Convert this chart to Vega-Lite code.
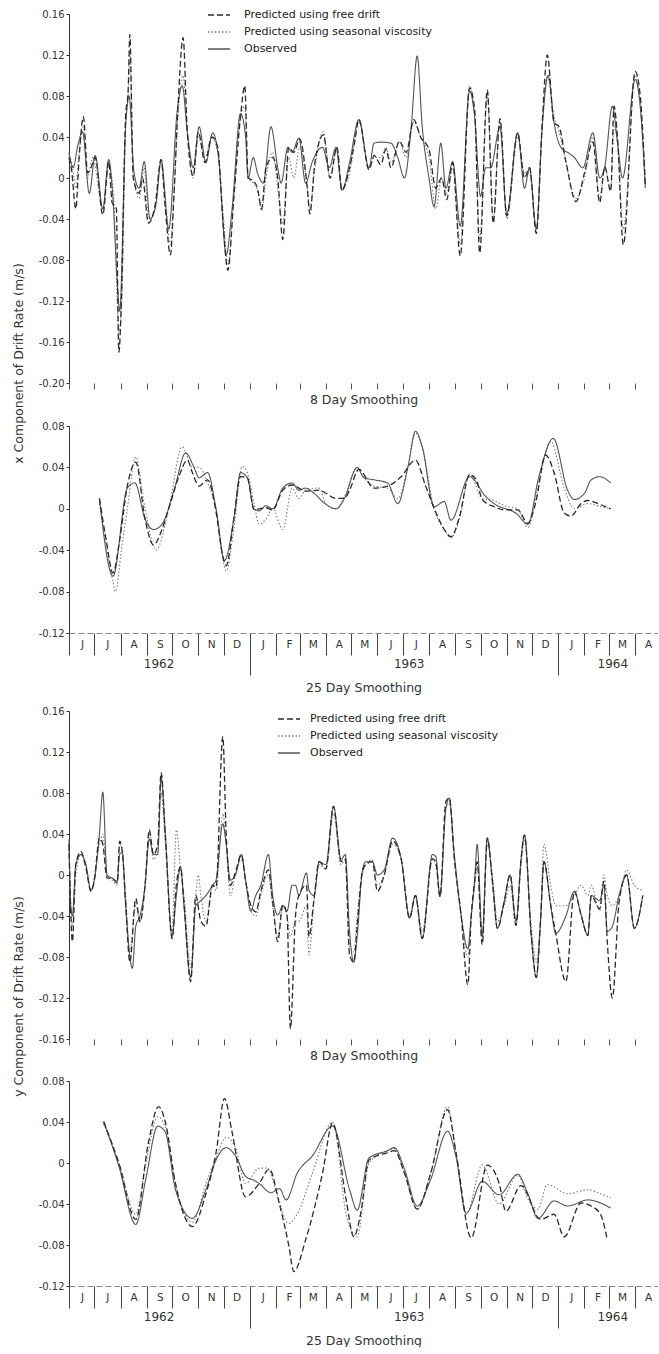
{
"$schema":"https://vega.github.io/schema/vega-lite/v6.json",
"background":"white",
"padding":{"left":12,"top":3,"right":0,"bottom":0},
"config":{
 "font":"DejaVu Sans",
 "view":{"stroke":null},
 "axis":{"grid":false,"labelColor":"#333","titleColor":"#333","tickColor":"#333","domainColor":"#333","labelFontSize":10,"titleFontSize":12,"titleFontWeight":"normal","tickSize":3,"labelPadding":2},
 "axisY":{"titleFontSize":12.5,"titlePadding":13},
 "axisX":{"titleFontSize":12.5},
 "legend":{"symbolType":"stroke","symbolSize":484,"symbolStrokeWidth":1.3,"labelFontSize":11,"labelColor":"#222","labelLimit":400,"labelOffset":8,"rowPadding":-6,"padding":0}
},
"datasets":{
"x8F":[{"t":0,"v":0.02},{"t":3,"v":0.008},{"t":8,"v":-0.03},{"t":12,"v":0.02},{"t":17,"v":0.06},{"t":22,"v":0.005},{"t":26,"v":0.01},{"t":31,"v":0.02},{"t":40,"v":-0.036},{"t":47,"v":0.016},{"t":51,"v":-0.024},{"t":56,"v":-0.03},{"t":59,"v":-0.17},{"t":62,"v":-0.12},{"t":67,"v":0.06},{"t":70,"v":0.085},{"t":72,"v":0.14},{"t":76,"v":0.0},{"t":83,"v":-0.015},{"t":87,"v":0.0},{"t":94,"v":-0.044},{"t":102,"v":-0.026},{"t":109,"v":0.018},{"t":114,"v":-0.03},{"t":120,"v":-0.075},{"t":124,"v":-0.02},{"t":129,"v":0.07},{"t":135,"v":0.137},{"t":140,"v":0.045},{"t":147,"v":0.002},{"t":153,"v":0.045},{"t":161,"v":0.015},{"t":169,"v":0.04},{"t":176,"v":0.03},{"t":182,"v":-0.04},{"t":188,"v":-0.09},{"t":195,"v":-0.02},{"t":203,"v":0.06},{"t":208,"v":0.09},{"t":212,"v":0.0},{"t":217,"v":-0.002},{"t":223,"v":-0.01},{"t":228,"v":-0.03},{"t":233,"v":0.01},{"t":241,"v":0.02},{"t":247,"v":0.0},{"t":253,"v":-0.06},{"t":260,"v":0.03},{"t":266,"v":0.025},{"t":273,"v":0.038},{"t":282,"v":-0.01},{"t":285,"v":-0.035},{"t":291,"v":0.015},{"t":301,"v":0.042},{"t":309,"v":0.0},{"t":317,"v":0.03},{"t":323,"v":-0.012},{"t":332,"v":0.01},{"t":338,"v":0.035},{"t":343,"v":0.057},{"t":355,"v":0.008},{"t":361,"v":0.022},{"t":369,"v":0.013},{"t":375,"v":0.028},{"t":381,"v":0.01},{"t":391,"v":0.036},{"t":399,"v":0.025},{"t":408,"v":0.057},{"t":416,"v":0.04},{"t":426,"v":0.028},{"t":434,"v":-0.01},{"t":441,"v":0.0},{"t":447,"v":-0.021},{"t":454,"v":0.015},{"t":463,"v":-0.076},{"t":474,"v":0.088},{"t":480,"v":0.067},{"t":486,"v":-0.073},{"t":495,"v":0.086},{"t":502,"v":-0.044},{"t":510,"v":0.058},{"t":518,"v":-0.037},{"t":531,"v":0.044},{"t":539,"v":0.0},{"t":545,"v":0.01},{"t":553,"v":-0.054},{"t":560,"v":0.054},{"t":566,"v":0.12},{"t":574,"v":0.054},{"t":580,"v":0.05},{"t":588,"v":0.016},{"t":600,"v":-0.023},{"t":610,"v":0.005},{"t":620,"v":0.035},{"t":628,"v":-0.024},{"t":634,"v":0.011},{"t":641,"v":-0.013},{"t":645,"v":0.07},{"t":649,"v":0.04},{"t":656,"v":-0.065},{"t":670,"v":0.104},{"t":676,"v":0.08},{"t":682,"v":-0.008}],
"x8S":[{"t":0,"v":0.022},{"t":4,"v":0.012},{"t":8,"v":-0.01},{"t":12,"v":0.025},{"t":17,"v":0.05},{"t":22,"v":0.0},{"t":28,"v":0.02},{"t":40,"v":-0.03},{"t":47,"v":0.012},{"t":53,"v":-0.02},{"t":59,"v":-0.15},{"t":62,"v":-0.13},{"t":67,"v":0.05},{"t":70,"v":0.08},{"t":72,"v":0.12},{"t":76,"v":0.005},{"t":83,"v":-0.02},{"t":89,"v":0.01},{"t":94,"v":-0.04},{"t":102,"v":-0.03},{"t":109,"v":0.015},{"t":114,"v":-0.02},{"t":120,"v":-0.065},{"t":124,"v":-0.02},{"t":129,"v":0.06},{"t":135,"v":0.1},{"t":140,"v":0.045},{"t":147,"v":0.0},{"t":153,"v":0.04},{"t":161,"v":0.02},{"t":169,"v":0.04},{"t":176,"v":0.025},{"t":182,"v":-0.03},{"t":188,"v":-0.085},{"t":195,"v":-0.02},{"t":203,"v":0.06},{"t":208,"v":0.07},{"t":212,"v":0.0},{"t":218,"v":-0.005},{"t":224,"v":-0.015},{"t":228,"v":-0.032},{"t":233,"v":0.0},{"t":241,"v":0.025},{"t":247,"v":-0.01},{"t":253,"v":-0.045},{"t":260,"v":0.02},{"t":266,"v":0.0},{"t":273,"v":0.03},{"t":282,"v":-0.01},{"t":285,"v":-0.03},{"t":291,"v":0.01},{"t":301,"v":0.045},{"t":309,"v":0.0},{"t":317,"v":0.03},{"t":323,"v":-0.01},{"t":332,"v":0.005},{"t":343,"v":0.055},{"t":355,"v":0.01},{"t":361,"v":0.02},{"t":369,"v":0.02},{"t":375,"v":0.03},{"t":381,"v":0.015},{"t":391,"v":0.035},{"t":399,"v":0.02},{"t":408,"v":0.055},{"t":416,"v":0.04},{"t":426,"v":0.02},{"t":434,"v":-0.03},{"t":441,"v":0.0},{"t":447,"v":-0.015},{"t":454,"v":0.01},{"t":463,"v":-0.065},{"t":474,"v":0.09},{"t":480,"v":0.06},{"t":486,"v":-0.06},{"t":495,"v":0.08},{"t":502,"v":-0.04},{"t":510,"v":0.055},{"t":518,"v":-0.04},{"t":531,"v":0.04},{"t":539,"v":0.005},{"t":545,"v":0.005},{"t":553,"v":-0.05},{"t":560,"v":0.05},{"t":566,"v":0.1},{"t":574,"v":0.06},{"t":580,"v":0.045},{"t":588,"v":0.015},{"t":600,"v":-0.02},{"t":610,"v":0.0},{"t":620,"v":0.04},{"t":628,"v":-0.02},{"t":634,"v":0.01},{"t":641,"v":-0.01},{"t":645,"v":0.05},{"t":649,"v":0.035},{"t":656,"v":-0.05},{"t":670,"v":0.1},{"t":676,"v":0.07},{"t":682,"v":-0.005}],
"x8O":[{"t":0,"v":0.025},{"t":5,"v":0.01},{"t":10,"v":0.03},{"t":16,"v":0.045},{"t":24,"v":-0.015},{"t":31,"v":0.022},{"t":40,"v":-0.03},{"t":47,"v":0.018},{"t":52,"v":-0.02},{"t":57,"v":-0.1},{"t":60,"v":-0.13},{"t":67,"v":0.05},{"t":71,"v":0.08},{"t":77,"v":0.005},{"t":83,"v":-0.01},{"t":89,"v":0.016},{"t":96,"v":-0.04},{"t":103,"v":-0.025},{"t":109,"v":0.018},{"t":118,"v":-0.05},{"t":128,"v":0.065},{"t":134,"v":0.09},{"t":140,"v":0.045},{"t":147,"v":0.01},{"t":154,"v":0.05},{"t":162,"v":0.015},{"t":170,"v":0.044},{"t":177,"v":0.02},{"t":186,"v":-0.075},{"t":193,"v":-0.03},{"t":203,"v":0.063},{"t":209,"v":0.04},{"t":212,"v":0.0},{"t":218,"v":0.02},{"t":223,"v":0.005},{"t":230,"v":-0.005},{"t":239,"v":0.05},{"t":247,"v":0.01},{"t":251,"v":-0.005},{"t":259,"v":0.03},{"t":264,"v":0.025},{"t":272,"v":0.039},{"t":280,"v":-0.005},{"t":288,"v":0.016},{"t":300,"v":0.03},{"t":308,"v":0.01},{"t":316,"v":0.03},{"t":323,"v":-0.012},{"t":332,"v":0.015},{"t":343,"v":0.057},{"t":355,"v":0.01},{"t":361,"v":0.034},{"t":369,"v":0.035},{"t":381,"v":0.034},{"t":389,"v":0.02},{"t":397,"v":0.0},{"t":405,"v":0.05},{"t":412,"v":0.119},{"t":418,"v":0.05},{"t":426,"v":0.0},{"t":432,"v":-0.028},{"t":440,"v":0.034},{"t":446,"v":-0.01},{"t":454,"v":0.016},{"t":463,"v":-0.047},{"t":474,"v":0.085},{"t":480,"v":0.06},{"t":487,"v":-0.018},{"t":493,"v":0.01},{"t":499,"v":0.01},{"t":510,"v":0.05},{"t":518,"v":-0.035},{"t":531,"v":0.044},{"t":539,"v":-0.01},{"t":545,"v":0.01},{"t":553,"v":-0.05},{"t":560,"v":0.05},{"t":567,"v":0.1},{"t":574,"v":0.054},{"t":582,"v":0.03},{"t":592,"v":0.024},{"t":598,"v":0.02},{"t":608,"v":0.01},{"t":620,"v":0.044},{"t":628,"v":0.0},{"t":634,"v":0.011},{"t":643,"v":0.07},{"t":649,"v":0.035},{"t":655,"v":0.0},{"t":670,"v":0.096},{"t":677,"v":0.06},{"t":682,"v":-0.01}],
"x25F":[{"t":36,"v":0.01},{"t":44,"v":-0.03},{"t":52,"v":-0.062},{"t":60,"v":-0.03},{"t":69,"v":0.022},{"t":79,"v":0.045},{"t":90,"v":-0.01},{"t":100,"v":-0.035},{"t":110,"v":-0.02},{"t":118,"v":0.0},{"t":130,"v":0.031},{"t":140,"v":0.047},{"t":146,"v":0.035},{"t":154,"v":0.022},{"t":164,"v":0.028},{"t":174,"v":-0.003},{"t":182,"v":-0.046},{"t":186,"v":-0.055},{"t":195,"v":-0.01},{"t":203,"v":0.031},{"t":211,"v":0.03},{"t":219,"v":-0.001},{"t":225,"v":0.0},{"t":233,"v":0.001},{"t":241,"v":-0.001},{"t":253,"v":0.018},{"t":264,"v":0.023},{"t":280,"v":0.017},{"t":296,"v":0.018},{"t":304,"v":0.015},{"t":316,"v":0.01},{"t":326,"v":0.01},{"t":332,"v":0.018},{"t":343,"v":0.038},{"t":361,"v":0.02},{"t":377,"v":0.022},{"t":393,"v":0.031},{"t":410,"v":0.047},{"t":422,"v":0.022},{"t":434,"v":-0.003},{"t":444,"v":-0.02},{"t":452,"v":-0.027},{"t":462,"v":-0.008},{"t":474,"v":0.033},{"t":482,"v":0.028},{"t":489,"v":0.009},{"t":503,"v":0.002},{"t":515,"v":-0.001},{"t":531,"v":-0.001},{"t":543,"v":-0.014},{"t":552,"v":0.005},{"t":564,"v":0.052},{"t":574,"v":0.035},{"t":586,"v":-0.004},{"t":594,"v":-0.007},{"t":606,"v":0.005},{"t":614,"v":0.008},{"t":629,"v":0.004},{"t":641,"v":0.0}],
"x25S":[{"t":36,"v":0.005},{"t":52,"v":-0.07},{"t":55,"v":-0.08},{"t":62,"v":-0.04},{"t":69,"v":0.0},{"t":79,"v":0.05},{"t":90,"v":0.0},{"t":103,"v":-0.04},{"t":118,"v":0.0},{"t":134,"v":0.06},{"t":146,"v":0.04},{"t":154,"v":0.04},{"t":164,"v":0.025},{"t":174,"v":0.0},{"t":186,"v":-0.06},{"t":195,"v":-0.02},{"t":205,"v":0.041},{"t":211,"v":0.035},{"t":219,"v":0.005},{"t":225,"v":-0.015},{"t":233,"v":-0.01},{"t":241,"v":0.0},{"t":253,"v":-0.02},{"t":264,"v":0.02},{"t":272,"v":0.01},{"t":280,"v":0.018},{"t":296,"v":0.02},{"t":304,"v":0.005},{"t":316,"v":0.0},{"t":326,"v":0.012},{"t":341,"v":0.04},{"t":349,"v":0.03},{"t":361,"v":0.022},{"t":377,"v":0.02},{"t":389,"v":0.01},{"t":401,"v":0.04},{"t":410,"v":0.073},{"t":418,"v":0.06},{"t":432,"v":0.0},{"t":444,"v":-0.02},{"t":452,"v":-0.028},{"t":462,"v":-0.01},{"t":474,"v":0.033},{"t":489,"v":0.01},{"t":503,"v":0.008},{"t":515,"v":0.003},{"t":531,"v":0.0},{"t":543,"v":-0.018},{"t":556,"v":0.025},{"t":570,"v":0.065},{"t":586,"v":0.02},{"t":598,"v":0.0},{"t":614,"v":0.005},{"t":629,"v":0.002},{"t":641,"v":0.0}],
"x25O":[{"t":36,"v":0.01},{"t":52,"v":-0.065},{"t":69,"v":0.02},{"t":78,"v":0.025},{"t":90,"v":-0.01},{"t":100,"v":-0.02},{"t":110,"v":-0.015},{"t":125,"v":0.02},{"t":138,"v":0.054},{"t":148,"v":0.04},{"t":154,"v":0.03},{"t":164,"v":0.035},{"t":174,"v":0.0},{"t":184,"v":-0.05},{"t":195,"v":-0.01},{"t":203,"v":0.035},{"t":211,"v":0.03},{"t":219,"v":0.0},{"t":225,"v":-0.002},{"t":233,"v":0.003},{"t":241,"v":0.0},{"t":253,"v":0.02},{"t":264,"v":0.025},{"t":272,"v":0.018},{"t":280,"v":0.02},{"t":290,"v":0.015},{"t":303,"v":0.005},{"t":316,"v":0.0},{"t":326,"v":0.01},{"t":341,"v":0.04},{"t":349,"v":0.03},{"t":361,"v":0.028},{"t":377,"v":0.025},{"t":389,"v":0.005},{"t":401,"v":0.04},{"t":410,"v":0.075},{"t":418,"v":0.06},{"t":432,"v":0.002},{"t":444,"v":0.007},{"t":452,"v":-0.011},{"t":474,"v":0.031},{"t":493,"v":0.012},{"t":503,"v":0.005},{"t":530,"v":-0.005},{"t":543,"v":-0.015},{"t":556,"v":0.031},{"t":573,"v":0.068},{"t":590,"v":0.018},{"t":598,"v":0.009},{"t":610,"v":0.015},{"t":618,"v":0.028},{"t":628,"v":0.031},{"t":641,"v":0.025}],
"y8F":[{"t":0,"v":0.03},{"t":2,"v":-0.035},{"t":4,"v":-0.065},{"t":8,"v":0.01},{"t":14,"v":0.023},{"t":20,"v":0.007},{"t":26,"v":-0.016},{"t":30,"v":-0.005},{"t":36,"v":0.036},{"t":40,"v":0.03},{"t":45,"v":-0.003},{"t":51,"v":-0.003},{"t":57,"v":-0.008},{"t":60,"v":0.033},{"t":63,"v":0.023},{"t":67,"v":-0.026},{"t":72,"v":-0.085},{"t":79,"v":-0.023},{"t":84,"v":-0.046},{"t":90,"v":-0.01},{"t":95,"v":0.044},{"t":100,"v":0.02},{"t":105,"v":0.03},{"t":109,"v":0.1},{"t":114,"v":0.039},{"t":122,"v":-0.062},{"t":127,"v":-0.01},{"t":132,"v":0.008},{"t":136,"v":-0.026},{"t":144,"v":-0.104},{"t":150,"v":-0.02},{"t":156,"v":-0.045},{"t":162,"v":-0.05},{"t":170,"v":-0.01},{"t":174,"v":-0.012},{"t":182,"v":0.135},{"t":186,"v":0.04},{"t":191,"v":-0.01},{"t":197,"v":0.003},{"t":204,"v":0.02},{"t":209,"v":-0.006},{"t":215,"v":-0.029},{"t":221,"v":-0.036},{"t":227,"v":-0.016},{"t":236,"v":0.005},{"t":241,"v":-0.026},{"t":247,"v":-0.065},{"t":253,"v":-0.029},{"t":258,"v":-0.039},{"t":262,"v":-0.15},{"t":268,"v":-0.04},{"t":272,"v":-0.02},{"t":281,"v":-0.01},{"t":284,"v":-0.06},{"t":290,"v":-0.023},{"t":296,"v":0.013},{"t":304,"v":0.006},{"t":313,"v":0.067},{"t":322,"v":0.013},{"t":327,"v":0.016},{"t":332,"v":-0.078},{"t":337,"v":-0.085},{"t":341,"v":-0.05},{"t":347,"v":0.003},{"t":351,"v":0.01},{"t":359,"v":0.013},{"t":365,"v":-0.016},{"t":373,"v":0.0},{"t":383,"v":0.033},{"t":393,"v":0.016},{"t":403,"v":-0.042},{"t":410,"v":-0.02},{"t":418,"v":-0.062},{"t":430,"v":0.016},{"t":434,"v":0.013},{"t":439,"v":-0.021},{"t":446,"v":0.072},{"t":450,"v":0.075},{"t":456,"v":0.016},{"t":464,"v":-0.039},{"t":472,"v":-0.107},{"t":476,"v":-0.04},{"t":480,"v":-0.006},{"t":483,"v":0.013},{"t":489,"v":-0.068},{"t":495,"v":0.036},{"t":501,"v":-0.006},{"t":507,"v":-0.052},{"t":515,"v":-0.026},{"t":522,"v":0.0},{"t":529,"v":-0.049},{"t":535,"v":0.016},{"t":539,"v":0.039},{"t":547,"v":-0.059},{"t":553,"v":-0.1},{"t":558,"v":-0.045},{"t":562,"v":0.013},{"t":570,"v":-0.029},{"t":576,"v":-0.057},{"t":588,"v":-0.104},{"t":598,"v":-0.016},{"t":606,"v":-0.039},{"t":614,"v":-0.059},{"t":618,"v":-0.02},{"t":628,"v":-0.033},{"t":633,"v":-0.006},{"t":637,"v":-0.065},{"t":643,"v":-0.12},{"t":651,"v":-0.026},{"t":660,"v":0.0},{"t":669,"v":-0.052},{"t":679,"v":-0.02}],
"y8S":[{"t":0,"v":0.025},{"t":4,"v":-0.05},{"t":8,"v":0.0},{"t":14,"v":0.02},{"t":20,"v":0.01},{"t":26,"v":-0.015},{"t":36,"v":0.03},{"t":40,"v":0.04},{"t":45,"v":0.0},{"t":51,"v":-0.005},{"t":57,"v":-0.01},{"t":60,"v":0.03},{"t":63,"v":0.025},{"t":67,"v":-0.02},{"t":72,"v":-0.075},{"t":79,"v":-0.03},{"t":84,"v":-0.045},{"t":90,"v":-0.01},{"t":95,"v":0.04},{"t":100,"v":0.015},{"t":105,"v":0.025},{"t":109,"v":0.08},{"t":114,"v":0.03},{"t":122,"v":-0.055},{"t":127,"v":0.044},{"t":132,"v":0.005},{"t":136,"v":-0.02},{"t":144,"v":-0.09},{"t":153,"v":0.0},{"t":156,"v":-0.02},{"t":162,"v":-0.045},{"t":170,"v":-0.01},{"t":174,"v":-0.015},{"t":182,"v":0.06},{"t":186,"v":0.03},{"t":191,"v":-0.02},{"t":197,"v":0.0},{"t":204,"v":0.015},{"t":209,"v":-0.005},{"t":215,"v":-0.035},{"t":221,"v":-0.04},{"t":227,"v":-0.02},{"t":236,"v":0.0},{"t":241,"v":-0.03},{"t":247,"v":-0.06},{"t":253,"v":-0.03},{"t":258,"v":-0.04},{"t":262,"v":-0.06},{"t":268,"v":-0.045},{"t":272,"v":-0.045},{"t":281,"v":-0.03},{"t":284,"v":-0.078},{"t":290,"v":-0.025},{"t":296,"v":0.01},{"t":304,"v":0.006},{"t":313,"v":0.06},{"t":322,"v":0.01},{"t":327,"v":0.015},{"t":332,"v":-0.07},{"t":337,"v":-0.075},{"t":341,"v":-0.04},{"t":347,"v":0.0},{"t":351,"v":0.01},{"t":359,"v":0.015},{"t":365,"v":-0.01},{"t":373,"v":0.0},{"t":383,"v":0.03},{"t":393,"v":0.015},{"t":403,"v":-0.04},{"t":410,"v":-0.02},{"t":418,"v":-0.055},{"t":430,"v":0.015},{"t":434,"v":0.01},{"t":439,"v":-0.02},{"t":446,"v":0.065},{"t":450,"v":0.07},{"t":456,"v":0.015},{"t":464,"v":-0.04},{"t":472,"v":-0.08},{"t":476,"v":-0.04},{"t":480,"v":-0.01},{"t":483,"v":0.01},{"t":489,"v":-0.06},{"t":495,"v":0.03},{"t":501,"v":0.0},{"t":507,"v":-0.045},{"t":515,"v":-0.03},{"t":522,"v":-0.01},{"t":529,"v":-0.05},{"t":535,"v":0.01},{"t":539,"v":0.035},{"t":547,"v":-0.05},{"t":553,"v":-0.085},{"t":558,"v":-0.04},{"t":562,"v":0.03},{"t":570,"v":-0.01},{"t":576,"v":-0.03},{"t":588,"v":-0.03},{"t":598,"v":-0.02},{"t":606,"v":-0.01},{"t":614,"v":-0.02},{"t":618,"v":-0.01},{"t":628,"v":-0.035},{"t":633,"v":0.0},{"t":637,"v":-0.02},{"t":643,"v":-0.03},{"t":651,"v":-0.02},{"t":660,"v":0.005},{"t":669,"v":-0.01},{"t":679,"v":-0.015}],
"y8O":[{"t":0,"v":0.035},{"t":2,"v":-0.03},{"t":4,"v":-0.04},{"t":8,"v":0.01},{"t":14,"v":0.02},{"t":20,"v":0.01},{"t":26,"v":-0.015},{"t":30,"v":-0.005},{"t":36,"v":0.04},{"t":40,"v":0.081},{"t":45,"v":0.0},{"t":51,"v":-0.003},{"t":57,"v":-0.006},{"t":60,"v":0.02},{"t":63,"v":0.022},{"t":67,"v":-0.03},{"t":75,"v":-0.091},{"t":79,"v":-0.05},{"t":84,"v":-0.04},{"t":90,"v":-0.01},{"t":95,"v":0.035},{"t":100,"v":0.02},{"t":105,"v":0.02},{"t":109,"v":0.095},{"t":114,"v":0.04},{"t":122,"v":-0.06},{"t":127,"v":-0.02},{"t":132,"v":0.008},{"t":136,"v":-0.03},{"t":144,"v":-0.1},{"t":150,"v":-0.03},{"t":156,"v":-0.025},{"t":162,"v":-0.02},{"t":170,"v":-0.01},{"t":174,"v":-0.005},{"t":182,"v":0.05},{"t":186,"v":0.03},{"t":191,"v":-0.005},{"t":197,"v":0.0},{"t":204,"v":0.02},{"t":209,"v":-0.005},{"t":215,"v":-0.035},{"t":221,"v":-0.02},{"t":227,"v":-0.01},{"t":236,"v":0.02},{"t":241,"v":-0.02},{"t":247,"v":-0.039},{"t":253,"v":-0.03},{"t":258,"v":-0.035},{"t":264,"v":-0.01},{"t":268,"v":-0.01},{"t":272,"v":-0.02},{"t":281,"v":0.002},{"t":284,"v":-0.015},{"t":290,"v":-0.02},{"t":296,"v":0.013},{"t":304,"v":0.01},{"t":313,"v":0.067},{"t":322,"v":0.015},{"t":327,"v":0.02},{"t":332,"v":-0.055},{"t":337,"v":-0.085},{"t":341,"v":-0.06},{"t":347,"v":0.003},{"t":351,"v":0.013},{"t":359,"v":0.013},{"t":365,"v":0.0},{"t":373,"v":0.005},{"t":383,"v":0.036},{"t":393,"v":0.016},{"t":403,"v":-0.042},{"t":410,"v":-0.02},{"t":418,"v":-0.062},{"t":430,"v":0.02},{"t":434,"v":0.018},{"t":439,"v":-0.021},{"t":446,"v":0.065},{"t":450,"v":0.075},{"t":456,"v":0.02},{"t":464,"v":-0.039},{"t":472,"v":-0.072},{"t":476,"v":-0.04},{"t":480,"v":-0.006},{"t":483,"v":0.03},{"t":489,"v":-0.06},{"t":495,"v":0.036},{"t":501,"v":-0.005},{"t":507,"v":-0.052},{"t":515,"v":-0.026},{"t":522,"v":0.0},{"t":529,"v":-0.045},{"t":535,"v":0.016},{"t":539,"v":0.039},{"t":547,"v":-0.059},{"t":553,"v":-0.1},{"t":558,"v":-0.045},{"t":562,"v":0.013},{"t":570,"v":-0.03},{"t":576,"v":-0.057},{"t":588,"v":-0.04},{"t":598,"v":-0.016},{"t":606,"v":-0.039},{"t":614,"v":-0.059},{"t":618,"v":-0.02},{"t":628,"v":-0.025},{"t":633,"v":-0.01},{"t":637,"v":-0.055},{"t":643,"v":-0.05},{"t":651,"v":-0.02},{"t":660,"v":0.0},{"t":669,"v":-0.052},{"t":679,"v":-0.02}],
"y25F":[{"t":41,"v":0.04},{"t":59,"v":0.0},{"t":79,"v":-0.055},{"t":94,"v":0.02},{"t":106,"v":0.055},{"t":114,"v":0.04},{"t":126,"v":-0.02},{"t":146,"v":-0.062},{"t":162,"v":-0.03},{"t":174,"v":0.01},{"t":184,"v":0.063},{"t":193,"v":0.03},{"t":209,"v":-0.033},{"t":225,"v":-0.02},{"t":237,"v":-0.006},{"t":249,"v":-0.04},{"t":260,"v":-0.08},{"t":266,"v":-0.106},{"t":280,"v":-0.075},{"t":300,"v":-0.01},{"t":312,"v":0.039},{"t":328,"v":-0.036},{"t":337,"v":-0.072},{"t":345,"v":-0.05},{"t":355,"v":0.003},{"t":377,"v":0.01},{"t":385,"v":0.012},{"t":397,"v":-0.01},{"t":412,"v":-0.045},{"t":428,"v":-0.01},{"t":448,"v":0.052},{"t":458,"v":0.01},{"t":476,"v":-0.073},{"t":495,"v":-0.002},{"t":509,"v":-0.02},{"t":517,"v":-0.047},{"t":535,"v":-0.022},{"t":558,"v":-0.055},{"t":574,"v":-0.05},{"t":586,"v":-0.072},{"t":606,"v":-0.039},{"t":618,"v":-0.042},{"t":629,"v":-0.05},{"t":637,"v":-0.075}],
"y25S":[{"t":41,"v":0.038},{"t":59,"v":0.0},{"t":79,"v":-0.05},{"t":91,"v":0.0},{"t":105,"v":0.045},{"t":114,"v":0.035},{"t":126,"v":-0.02},{"t":146,"v":-0.058},{"t":162,"v":-0.02},{"t":174,"v":0.005},{"t":186,"v":0.025},{"t":197,"v":0.015},{"t":209,"v":-0.02},{"t":225,"v":-0.005},{"t":235,"v":-0.005},{"t":245,"v":-0.027},{"t":260,"v":-0.059},{"t":270,"v":-0.05},{"t":288,"v":-0.01},{"t":312,"v":0.04},{"t":328,"v":-0.05},{"t":341,"v":-0.072},{"t":355,"v":0.0},{"t":377,"v":0.012},{"t":385,"v":0.014},{"t":397,"v":-0.01},{"t":412,"v":-0.045},{"t":428,"v":-0.01},{"t":448,"v":0.055},{"t":458,"v":0.01},{"t":470,"v":-0.05},{"t":489,"v":-0.002},{"t":509,"v":-0.04},{"t":531,"v":-0.012},{"t":543,"v":-0.035},{"t":555,"v":-0.045},{"t":566,"v":-0.021},{"t":590,"v":-0.03},{"t":614,"v":-0.026},{"t":629,"v":-0.03},{"t":641,"v":-0.034}],
"y25O":[{"t":41,"v":0.041},{"t":59,"v":-0.003},{"t":79,"v":-0.06},{"t":91,"v":-0.015},{"t":105,"v":0.036},{"t":114,"v":0.03},{"t":126,"v":-0.026},{"t":146,"v":-0.054},{"t":162,"v":-0.026},{"t":174,"v":0.003},{"t":186,"v":0.015},{"t":197,"v":0.007},{"t":209,"v":-0.013},{"t":219,"v":-0.017},{"t":225,"v":-0.02},{"t":239,"v":-0.029},{"t":249,"v":-0.025},{"t":257,"v":-0.036},{"t":270,"v":-0.01},{"t":288,"v":0.007},{"t":312,"v":0.036},{"t":332,"v":-0.026},{"t":341,"v":-0.046},{"t":355,"v":0.005},{"t":377,"v":0.012},{"t":385,"v":0.015},{"t":397,"v":-0.006},{"t":412,"v":-0.042},{"t":428,"v":-0.016},{"t":448,"v":0.031},{"t":458,"v":0.006},{"t":470,"v":-0.049},{"t":489,"v":-0.018},{"t":509,"v":-0.031},{"t":531,"v":-0.011},{"t":543,"v":-0.03},{"t":555,"v":-0.054},{"t":574,"v":-0.037},{"t":590,"v":-0.042},{"t":614,"v":-0.036},{"t":629,"v":-0.039},{"t":641,"v":-0.044}]
},
"bounds":"flush",
"spacing":0,
"resolve":{"legend":{"color":"independent","strokeDash":"independent"}},
"vconcat":[
 {"width":589,"height":369,
  "encoding":{
   "x":{"field":"t","type":"quantitative","scale":{"domain":[0,697],"nice":false,"zero":false},"axis":{"values":[0,30,61,92,122,153,183,214,245,273,304,334,365,395,426,457,487,518,548,579,610,639,670],"labels":false,"domain":false,"tickSize":6,"tickColor":"#555","title":"8 Day Smoothing","titlePadding":4}},
   "y":{"field":"v","type":"quantitative","scale":{"domain":[-0.2,0.16],"nice":false,"zero":false},"axis":{"values":[-0.2,-0.16,-0.12,-0.08,-0.04,0,0.04,0.08,0.12,0.16],"labelExpr":"datum.value == 0 ? '0' : replace(format(datum.value, '.2f'), '\u2212', '-')","title":"x Component of Drift Rate (m/s)","titleY":349}}
  },
  "layer":[
   {"data":{"name":"x8S"},"mark":{"type":"line","interpolate":"monotone","strokeWidth":1.1},"encoding":{"color":{"datum":"Predicted using seasonal viscosity","type":"nominal","scale":{"domain":["Predicted using free drift","Predicted using seasonal viscosity","Observed"],"range":["#2a2a2a","#7a7a7a","#555555"]},"legend":{"title":null,"orient":"none","legendX":138,"legendY":-11,"labelOffset":13}},"strokeDash":{"datum":"Predicted using seasonal viscosity","type":"nominal","scale":{"domain":["Predicted using free drift","Predicted using seasonal viscosity","Observed"],"range":[[6,3],[1.5,2],[1,0]]},"legend":{"title":null,"orient":"none","legendX":138,"legendY":-11,"labelOffset":13}}}},
   {"data":{"name":"x8O"},"mark":{"type":"line","interpolate":"monotone","strokeWidth":1.1},"encoding":{"color":{"datum":"Observed","type":"nominal","scale":{"domain":["Predicted using free drift","Predicted using seasonal viscosity","Observed"],"range":["#2a2a2a","#7a7a7a","#555555"]},"legend":{"title":null,"orient":"none","legendX":138,"legendY":-11,"labelOffset":13}},"strokeDash":{"datum":"Observed","type":"nominal","scale":{"domain":["Predicted using free drift","Predicted using seasonal viscosity","Observed"],"range":[[6,3],[1.5,2],[1,0]]},"legend":{"title":null,"orient":"none","legendX":138,"legendY":-11,"labelOffset":13}}}},
   {"data":{"name":"x8F"},"mark":{"type":"line","interpolate":"monotone","strokeWidth":1.3},"encoding":{"color":{"datum":"Predicted using free drift","type":"nominal","scale":{"domain":["Predicted using free drift","Predicted using seasonal viscosity","Observed"],"range":["#2a2a2a","#7a7a7a","#555555"]},"legend":{"title":null,"orient":"none","legendX":138,"legendY":-11,"labelOffset":13}},"strokeDash":{"datum":"Predicted using free drift","type":"nominal","scale":{"domain":["Predicted using free drift","Predicted using seasonal viscosity","Observed"],"range":[[6,3],[1.5,2],[1,0]]},"legend":{"title":null,"orient":"none","legendX":138,"legendY":-11,"labelOffset":13}}}}
  ]
 },
 {"width":589,"height":43,"data":{"values":[]},"mark":"point"},
 {"width":589,"height":207,
  "encoding":{
   "y":{"field":"v","type":"quantitative","scale":{"domain":[-0.12,0.08],"nice":false,"zero":false},"axis":{"values":[-0.12,-0.08,-0.04,0,0.04,0.08],"labelExpr":"datum.value == 0 ? '0' : replace(format(datum.value, '.2f'), '\u2212', '-')","title":null}}
  },
  "resolve":{"axis":{"x":"independent"}},
  "layer":[
   {"data":{"name":"x25S"},"mark":{"type":"line","interpolate":"monotone","strokeWidth":1.1},"encoding":{
     "x":{"field":"t","type":"quantitative","scale":{"domain":[0,697],"nice":false,"zero":false},"axis":{"orient":"bottom","values":[214,579],"labels":false,"domain":false,"tickSize":42,"tickColor":"#444","title":"25 Day Smoothing","titlePadding":6}},
     "color":{"datum":"Predicted using seasonal viscosity","type":"nominal","scale":{"domain":["Predicted using free drift","Predicted using seasonal viscosity","Observed"],"range":["#2a2a2a","#7a7a7a","#555555"]},"legend":null},"strokeDash":{"datum":"Predicted using seasonal viscosity","type":"nominal","scale":{"domain":["Predicted using free drift","Predicted using seasonal viscosity","Observed"],"range":[[6,3],[1.5,2],[1,0]]},"legend":null}}},
   {"data":{"name":"x25O"},"mark":{"type":"line","interpolate":"monotone","strokeWidth":1.1},"encoding":{
     "x":{"field":"t","type":"quantitative","scale":{"domain":[0,697],"nice":false,"zero":false},"axis":{"orient":"bottom","values":[106,402,643],"labelExpr":"datum.value < 200 ? '1962' : datum.value < 500 ? '1963' : '1964'","ticks":false,"tickSize":0,"domain":false,"labelPadding":25,"labelFontSize":12,"labelFlush":false,"labelOverlap":false,"title":null}},
     "color":{"datum":"Observed","type":"nominal","scale":{"domain":["Predicted using free drift","Predicted using seasonal viscosity","Observed"],"range":["#2a2a2a","#7a7a7a","#555555"]},"legend":null},"strokeDash":{"datum":"Observed","type":"nominal","scale":{"domain":["Predicted using free drift","Predicted using seasonal viscosity","Observed"],"range":[[6,3],[1.5,2],[1,0]]},"legend":null}}},
   {"data":{"name":"x25F"},"mark":{"type":"line","interpolate":"monotone","strokeWidth":1.3},"encoding":{
     "x":{"field":"t","type":"quantitative","scale":{"domain":[0,697],"nice":false,"zero":false},"axis":{"orient":"bottom","values":[0,30,61,92,122,153,183,214,245,273,304,334,365,395,426,457,487,518,548,579,610,639,670],"labelExpr":"substring(timeFormat(datetime(1962, 5, 1 + datum.value), '%b'), 0, 1)","tickSize":22,"labelOffset":13,"labelPadding":-16,"labelFontSize":10.5,"labelColor":"#333","labelFlush":false,"labelOverlap":false,"domainColor":"#888","domainDash":[6,3],"tickColor":"#444","title":null}},
     "color":{"datum":"Predicted using free drift","type":"nominal","scale":{"domain":["Predicted using free drift","Predicted using seasonal viscosity","Observed"],"range":["#2a2a2a","#7a7a7a","#555555"]},"legend":null},"strokeDash":{"datum":"Predicted using free drift","type":"nominal","scale":{"domain":["Predicted using free drift","Predicted using seasonal viscosity","Observed"],"range":[[6,3],[1.5,2],[1,0]]},"legend":null}}}
  ]
 },
 {"width":589,"height":78,"data":{"values":[]},"mark":"point"},
 {"width":589,"height":328,
  "encoding":{
   "x":{"field":"t","type":"quantitative","scale":{"domain":[0,697],"nice":false,"zero":false},"axis":{"values":[0,30,61,92,122,153,183,214,245,273,304,334,365,395,426,457,487,518,548,579,610,639,670],"labels":false,"domain":false,"tickSize":6,"tickColor":"#555","title":"8 Day Smoothing","titlePadding":4}},
   "y":{"field":"v","type":"quantitative","scale":{"domain":[-0.16,0.16],"nice":false,"zero":false},"axis":{"values":[-0.16,-0.12,-0.08,-0.04,0,0.04,0.08,0.12,0.16],"labelExpr":"datum.value == 0 ? '0' : replace(format(datum.value, '.2f'), '\u2212', '-')","title":"y Component of Drift Rate (m/s)","titleY":285}}
  },
  "layer":[
   {"data":{"name":"y8S"},"mark":{"type":"line","interpolate":"monotone","strokeWidth":1.1},"encoding":{"color":{"datum":"Predicted using seasonal viscosity","type":"nominal","scale":{"domain":["Predicted using free drift","Predicted using seasonal viscosity","Observed"],"range":["#2a2a2a","#7a7a7a","#555555"]},"legend":{"title":null,"orient":"none","legendX":208,"legendY":-4,"labelOffset":9}},"strokeDash":{"datum":"Predicted using seasonal viscosity","type":"nominal","scale":{"domain":["Predicted using free drift","Predicted using seasonal viscosity","Observed"],"range":[[6,3],[1.5,2],[1,0]]},"legend":{"title":null,"orient":"none","legendX":208,"legendY":-4,"labelOffset":9}}}},
   {"data":{"name":"y8O"},"mark":{"type":"line","interpolate":"monotone","strokeWidth":1.1},"encoding":{"color":{"datum":"Observed","type":"nominal","scale":{"domain":["Predicted using free drift","Predicted using seasonal viscosity","Observed"],"range":["#2a2a2a","#7a7a7a","#555555"]},"legend":{"title":null,"orient":"none","legendX":208,"legendY":-4,"labelOffset":9}},"strokeDash":{"datum":"Observed","type":"nominal","scale":{"domain":["Predicted using free drift","Predicted using seasonal viscosity","Observed"],"range":[[6,3],[1.5,2],[1,0]]},"legend":{"title":null,"orient":"none","legendX":208,"legendY":-4,"labelOffset":9}}}},
   {"data":{"name":"y8F"},"mark":{"type":"line","interpolate":"monotone","strokeWidth":1.3},"encoding":{"color":{"datum":"Predicted using free drift","type":"nominal","scale":{"domain":["Predicted using free drift","Predicted using seasonal viscosity","Observed"],"range":["#2a2a2a","#7a7a7a","#555555"]},"legend":{"title":null,"orient":"none","legendX":208,"legendY":-4,"labelOffset":9}},"strokeDash":{"datum":"Predicted using free drift","type":"nominal","scale":{"domain":["Predicted using free drift","Predicted using seasonal viscosity","Observed"],"range":[[6,3],[1.5,2],[1,0]]},"legend":{"title":null,"orient":"none","legendX":208,"legendY":-4,"labelOffset":9}}}}
  ]
 },
 {"width":589,"height":42,"data":{"values":[]},"mark":"point"},
 {"width":589,"height":205,
  "encoding":{
   "y":{"field":"v","type":"quantitative","scale":{"domain":[-0.12,0.08],"nice":false,"zero":false},"axis":{"values":[-0.12,-0.08,-0.04,0,0.04,0.08],"labelExpr":"datum.value == 0 ? '0' : replace(format(datum.value, '.2f'), '\u2212', '-')","title":null}}
  },
  "resolve":{"axis":{"x":"independent"}},
  "layer":[
   {"data":{"name":"y25S"},"mark":{"type":"line","interpolate":"monotone","strokeWidth":1.1},"encoding":{
     "x":{"field":"t","type":"quantitative","scale":{"domain":[0,697],"nice":false,"zero":false},"axis":{"orient":"bottom","values":[214,579],"labels":false,"domain":false,"tickSize":42,"tickColor":"#444","title":"25 Day Smoothing","titlePadding":6}},
     "color":{"datum":"Predicted using seasonal viscosity","type":"nominal","scale":{"domain":["Predicted using free drift","Predicted using seasonal viscosity","Observed"],"range":["#2a2a2a","#7a7a7a","#555555"]},"legend":null},"strokeDash":{"datum":"Predicted using seasonal viscosity","type":"nominal","scale":{"domain":["Predicted using free drift","Predicted using seasonal viscosity","Observed"],"range":[[6,3],[1.5,2],[1,0]]},"legend":null}}},
   {"data":{"name":"y25O"},"mark":{"type":"line","interpolate":"monotone","strokeWidth":1.1},"encoding":{
     "x":{"field":"t","type":"quantitative","scale":{"domain":[0,697],"nice":false,"zero":false},"axis":{"orient":"bottom","values":[106,402,643],"labelExpr":"datum.value < 200 ? '1962' : datum.value < 500 ? '1963' : '1964'","ticks":false,"tickSize":0,"domain":false,"labelPadding":25,"labelFontSize":12,"labelFlush":false,"labelOverlap":false,"title":null}},
     "color":{"datum":"Observed","type":"nominal","scale":{"domain":["Predicted using free drift","Predicted using seasonal viscosity","Observed"],"range":["#2a2a2a","#7a7a7a","#555555"]},"legend":null},"strokeDash":{"datum":"Observed","type":"nominal","scale":{"domain":["Predicted using free drift","Predicted using seasonal viscosity","Observed"],"range":[[6,3],[1.5,2],[1,0]]},"legend":null}}},
   {"data":{"name":"y25F"},"mark":{"type":"line","interpolate":"monotone","strokeWidth":1.3},"encoding":{
     "x":{"field":"t","type":"quantitative","scale":{"domain":[0,697],"nice":false,"zero":false},"axis":{"orient":"bottom","values":[0,30,61,92,122,153,183,214,245,273,304,334,365,395,426,457,487,518,548,579,610,639,670],"labelExpr":"substring(timeFormat(datetime(1962, 5, 1 + datum.value), '%b'), 0, 1)","tickSize":22,"labelOffset":13,"labelPadding":-16,"labelFontSize":10.5,"labelColor":"#333","labelFlush":false,"labelOverlap":false,"domainColor":"#888","domainDash":[6,3],"tickColor":"#444","title":null}},
     "color":{"datum":"Predicted using free drift","type":"nominal","scale":{"domain":["Predicted using free drift","Predicted using seasonal viscosity","Observed"],"range":["#2a2a2a","#7a7a7a","#555555"]},"legend":null},"strokeDash":{"datum":"Predicted using free drift","type":"nominal","scale":{"domain":["Predicted using free drift","Predicted using seasonal viscosity","Observed"],"range":[[6,3],[1.5,2],[1,0]]},"legend":null}}}
  ]
 }
]
}
